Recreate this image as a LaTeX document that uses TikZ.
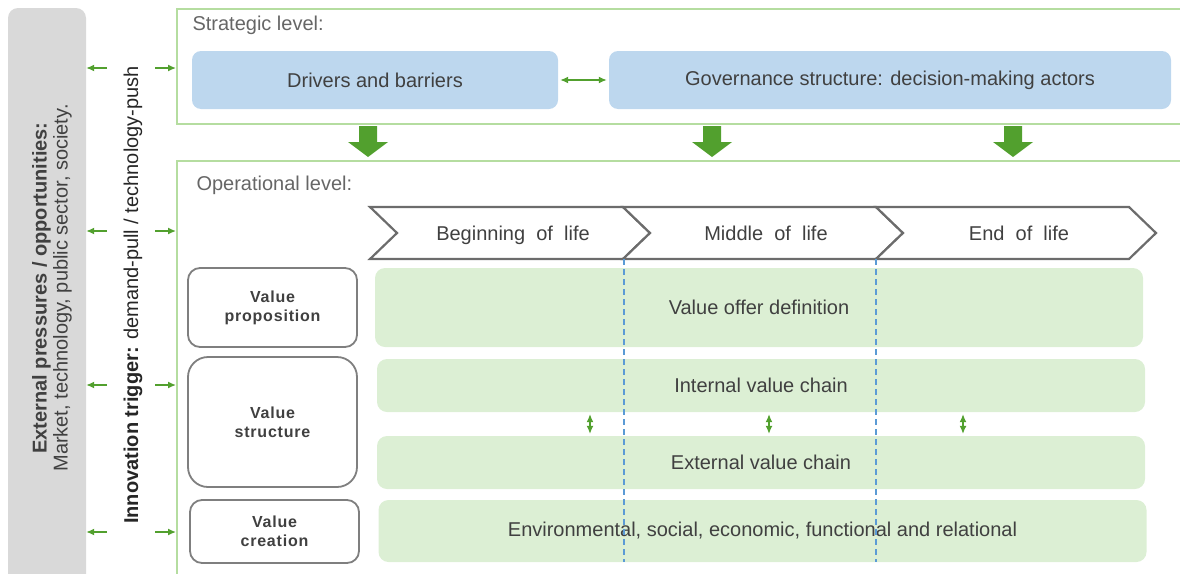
\documentclass[tikz,border=0pt]{standalone}
\usepackage{fontspec}
\setmainfont{Liberation Sans}
\usepackage{xcolor}
\usetikzlibrary{arrows.meta, positioning, calc}

\definecolor{extgray}{HTML}{D9D9D9}
\definecolor{lvlgreen}{HTML}{B5DDA0}
\definecolor{arrgreen}{HTML}{52A02E}
\definecolor{bluefill}{HTML}{BDD7EE}
\definecolor{greenfill}{HTML}{DCEFD4}
\definecolor{dashblue}{HTML}{5B9BD5}
\definecolor{outgray}{HTML}{7F7F7F}
\definecolor{txtgray}{HTML}{404040}

\begin{document}
\begin{tikzpicture}[
        x=1pt, y=-1pt,
        txt/.style={text=txtgray, font=\fontsize{20}{23}\selectfont},
        levelbox/.style={draw=lvlgreen, line width=2pt, inner sep=0pt},
        bluebox/.style={txt, fill=bluefill, rounded corners=9pt, minimum height=58pt, inner sep=0pt},
        rowbox/.style={txt, fill=greenfill, rounded corners=10pt, inner sep=0pt, minimum width=768pt},
        dimbox/.style={draw=outgray, line width=1.8pt, fill=white, rounded corners=12pt, minimum width=169pt,
            inner sep=0pt, align=center, text=txtgray,
            font=\fontsize{16}{19}\selectfont\bfseries\addfontfeatures{LetterSpace=5}},
        garrow/.style={draw=arrgreen, line width=1.4pt, -{Latex[length=8pt,width=7pt]}},
        gboth/.style={draw=arrgreen, line width=1.4pt, {Latex[length=8pt,width=7pt]}-{Latex[length=8pt,width=7pt]}},
        phase/.style={draw=outgray!85!black, line width=2.2pt, fill=white, line join=miter}
    ]
        \useasboundingbox (0,0) rectangle (1180,573);

        % outside pressures
        \node[fill=extgray, rounded corners=10pt, minimum width=78pt, minimum height=590pt, inner sep=0pt]
            (ext) at (47,303) {};
        \node[rotate=90, align=center, text=txtgray, font=\fontsize{20}{21}\selectfont] (exttext) at (52,288)
            {\textbf{External pressures / opportunities:}\\Market, technology, public sector, society.};
        \node[rotate=90, text=black!85, font=\fontsize{20}{23}\selectfont] (trigger) at (133,295)
            {\textbf{Innovation trigger:} demand-pull / technology-push};

        % the two levels
        \node[levelbox, minimum width=1010pt, minimum height=115pt] (strat) at (682,66.5) {};
        \node[levelbox, minimum width=1010pt, minimum height=425pt] (oper) at (682,373.5) {};
        \node[text=txtgray!80, font=\fontsize{20}{23}\selectfont, anchor=west] (stratlbl) at (189,25) {Strategic level:};
        \node[text=txtgray!80, font=\fontsize{20}{23}\selectfont, anchor=west] (operlbl) at (193,185) {Operational level:};

        \node[bluebox, minimum width=366pt] (drivers) at (375,80) {Drivers and barriers};
        \node[bluebox, minimum width=562pt] (gov) at (890,80) {Governance structure: decision-making actors};
        \draw[gboth, shorten <=2pt, shorten >=2pt] (drivers.east) -- (gov.west);

        % arrows from outside into the levels
        \foreach \y/\n in {68/a, 231/b, 385/c, 532/d} {
            \coordinate (l\n) at (107,\y);
            \coordinate (r\n) at (155,\y);
            \draw[garrow] (l\n) -- (l\n -| ext.east);
        }
        \draw[garrow] (ra) -- (ra -| strat.west);
        \foreach \n in {b,c,d}
            \draw[garrow] (r\n) -- (r\n -| oper.west);

        % block arrows between the levels
        \foreach \x in {368,712,1013}
            \fill[arrgreen] (\x-9,126) -- (\x+9,126) -- (\x+9,142) -- (\x+20,142) -- (\x,157)
                -- (\x-20,142) -- (\x-9,142) -- cycle;

        % life cycle phases
        \foreach \x/\n/\t in {370/bol/Beginning\ \ of\ \ life, 623/mol/Middle\ \ of\ \ life, 876/eol/End\ \ of\ \ life} {
            \draw[phase] (\x,207) -- (\x+253,207) -- (\x+280,233) -- (\x+253,259) -- (\x,259) -- (\x+27,233) -- cycle;
            \node[txt, anchor=base] (\n) at (\x+143,240) {\t};
        }

        % rows
        \node[dimbox, minimum height=79pt] (vprop) at (272.5,307.5) {Value\\proposition};
        \node[dimbox, minimum height=130pt, rounded corners=20pt] (vstruct) at (272.5,422) {Value\\structure};
        \node[dimbox, minimum height=63pt] (vcreate) at (274.5,531.5) {Value\\creation};

        \node[rowbox, minimum height=79pt] (offer) at (759,307.5) {Value offer definition};
        \node[rowbox, minimum height=53pt] (intchain) at (761,385.5) {Internal value chain};
        \node[rowbox, minimum height=53pt] (extchain) at (761,462.5) {External value chain};
        \node[rowbox, minimum height=62pt] (envrow) at (762.5,531) {Environmental, social, economic, functional and relational};

        \foreach \x/\n in {590/p, 769/q, 963/s} {
            \coordinate (v\n) at (\x,0);
            \draw[gboth, line width=1.2pt, shorten <=2pt, shorten >=2pt] (intchain.south -| v\n) -- (extchain.north -| v\n);
        }

        % phase borders
        \coordinate (d1) at (624,259);
        \coordinate (d2) at (876,259);
        \draw[dashblue, line width=1.3pt, dash pattern=on 6pt off 4pt] (d1) -- (d1 |- envrow.south);
        \draw[dashblue, line width=1.3pt, dash pattern=on 6pt off 4pt] (d2) -- (d2 |- envrow.south);
    \end{tikzpicture}
\end{document}
